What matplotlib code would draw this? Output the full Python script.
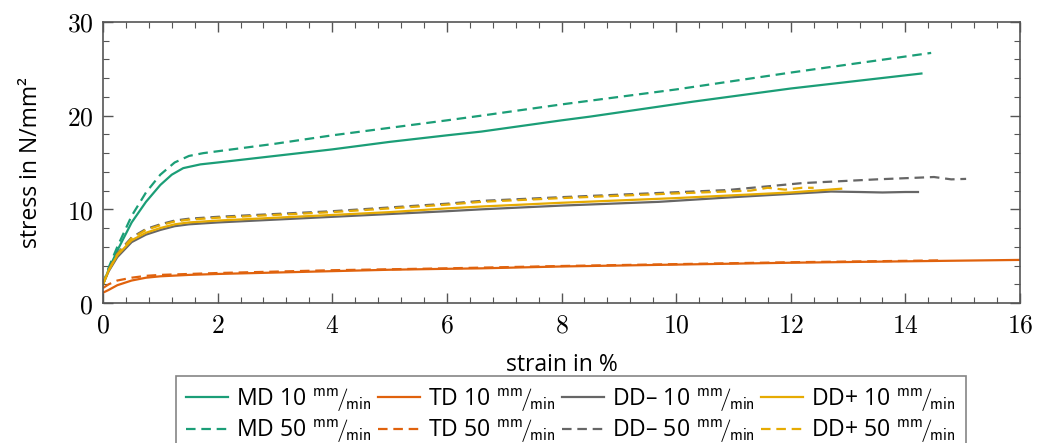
import matplotlib
matplotlib.use("Agg")
import matplotlib.pyplot as plt
from matplotlib.ticker import MultipleLocator, FuncFormatter

# --- measured stress-strain curves (strain in %, stress in N/mm^2) ---
md10_x = [0, 0.1, 0.25, 0.5, 0.75, 1.0, 1.2, 1.4, 1.7, 2.0, 3, 4, 5, 6, 6.6, 8, 8.5, 10.3, 12, 14.28]
md10_y = [2.0, 3.6, 5.6, 8.6, 10.8, 12.6, 13.7, 14.4, 14.8, 15.0, 15.7, 16.4, 17.2, 17.9, 18.3, 19.5, 19.9, 21.5, 22.9, 24.5]

md50_x = [0, 0.1, 0.25, 0.5, 0.75, 1.0, 1.25, 1.5, 1.75, 2, 3, 4, 5, 6, 6.6, 8, 10, 12, 14.45]
md50_y = [2.0, 3.8, 6.0, 9.3, 11.8, 13.7, 15.0, 15.7, 16.0, 16.2, 17.0, 17.9, 18.7, 19.5, 20.0, 21.2, 22.8, 24.6, 26.7]

td10_x = [0, 0.1, 0.25, 0.5, 0.75, 1.0, 1.5, 2, 3, 4, 5, 6, 6.6, 8, 10, 12, 14, 16]
td10_y = [1.1, 1.4, 1.9, 2.4, 2.7, 2.85, 3.0, 3.1, 3.25, 3.4, 3.55, 3.65, 3.7, 3.9, 4.1, 4.3, 4.45, 4.6]

td50_x = [0, 0.1, 0.25, 0.5, 0.75, 1, 1.5, 2, 3, 4, 5, 6, 8, 10, 12, 14, 14.6]
td50_y = [1.6, 2.0, 2.4, 2.7, 2.9, 3.0, 3.1, 3.2, 3.35, 3.5, 3.6, 3.7, 3.95, 4.15, 4.35, 4.5, 4.55]

ddm10_x = [0, 0.1, 0.25, 0.5, 0.75, 1.0, 1.25, 1.5, 2, 3, 4, 5, 6, 6.6, 8, 9.7, 11, 12.7, 13.2, 13.6, 14.0, 14.22]
ddm10_y = [2.0, 3.4, 4.9, 6.5, 7.3, 7.8, 8.2, 8.4, 8.6, 8.9, 9.2, 9.5, 9.8, 10.0, 10.4, 10.8, 11.3, 11.9, 11.85, 11.8, 11.85, 11.85]

ddm50_x = [0, 0.1, 0.25, 0.5, 0.75, 1.0, 1.25, 1.5, 2, 3, 4, 5, 6, 6.6, 8, 10.9, 12.2, 13.5, 14.5, 14.8, 15.06]
ddm50_y = [2.0, 3.6, 5.3, 7.0, 7.9, 8.4, 8.8, 9.0, 9.2, 9.5, 9.8, 10.2, 10.6, 10.9, 11.3, 12.06, 12.8, 13.2, 13.45, 13.2, 13.25]

ddp10_x = [0, 0.1, 0.25, 0.5, 0.75, 1.0, 1.25, 1.5, 2, 3, 4, 5, 6, 6.6, 8, 10, 12, 12.88]
ddp10_y = [2.0, 3.5, 5.1, 6.7, 7.5, 8.0, 8.4, 8.6, 8.8, 9.1, 9.4, 9.7, 10.1, 10.3, 10.7, 11.2, 11.8, 12.2]

ddp50_x = [0, 0.1, 0.25, 0.5, 0.75, 1.0, 1.25, 1.5, 2, 3, 4, 5, 6, 6.6, 8, 10, 11.3, 11.6, 11.9, 12.2, 12.4]
ddp50_y = [2.0, 3.5, 5.2, 6.9, 7.8, 8.3, 8.7, 8.9, 9.1, 9.4, 9.7, 10.1, 10.5, 10.8, 11.2, 11.7, 12.0, 12.3, 12.1, 12.3, 12.3]

x_ticks = [0, 2, 4, 6, 8, 10, 12, 14, 16]
y_ticks = [0, 10, 20, 30]

C_MD = "#1b9e77"
C_TD = "#e0620d"
C_DDM = "#666666"
C_DDP = "#e6ab02"

plt.rcParams["mathtext.fontset"] = "cm"

fig = plt.figure(figsize=(10.5, 4.43), dpi=100)
ax = fig.add_axes([103 / 1050, 1 - 303 / 443, (1020 - 103) / 1050, (303 - 22) / 443])

rate = r"$\mathsf{^{mm}\!/\!_{min}}$"
lw = 1.6
dash = (4.3, 2.6)

series = [
    (md10_x, md10_y, C_MD, "-", f"MD 10 {rate}"),
    (md50_x, md50_y, C_MD, "--", f"MD 50 {rate}"),
    (td10_x, td10_y, C_TD, "-", f"TD 10 {rate}"),
    (td50_x, td50_y, C_TD, "--", f"TD 50 {rate}"),
    (ddm10_x, ddm10_y, C_DDM, "-", f"DD\u2013 10 {rate}"),
    (ddm50_x, ddm50_y, C_DDM, "--", f"DD\u2013 50 {rate}"),
    (ddp10_x, ddp10_y, C_DDP, "-", f"DD+ 10 {rate}"),
    (ddp50_x, ddp50_y, C_DDP, "--", f"DD+ 50 {rate}"),
]
handles = []
for xs, ys, c, ls, lab in series:
    if ls == "--":
        h, = ax.plot(xs, ys, color=c, lw=lw, dashes=dash, label=lab)
    else:
        h, = ax.plot(xs, ys, color=c, lw=lw, label=lab)
    handles.append(h)

ax.set_xlim(0, 16)
ax.set_ylim(0, 30)
ax.set_xticks(x_ticks)
ax.set_yticks(y_ticks)
ax.xaxis.set_minor_locator(MultipleLocator(0.4))
ax.yaxis.set_minor_locator(MultipleLocator(2))
ax.xaxis.set_major_formatter(FuncFormatter(lambda v, p: f"${v:g}$"))
ax.yaxis.set_major_formatter(FuncFormatter(lambda v, p: f"${v:g}$"))
ax.tick_params(which="both", direction="in", top=True, right=True, colors="#555555",
               labelcolor="black", labelsize=18.5, pad=7)
ax.tick_params(which="major", length=7, width=1.0)
ax.tick_params(which="minor", length=4.5, width=0.8)
for s in ax.spines.values():
    s.set_color("#555555")
    s.set_linewidth(1.2)

ax.set_xlabel("strain in %", fontsize=16.5, family="Open Sans", labelpad=10)
ax.set_ylabel("stress in N/mm²", fontsize=16.5, family="Open Sans", labelpad=17)

leg = fig.legend(handles=handles, loc="upper center", bbox_to_anchor=(571 / 1050, 1 - 376 / 443),
                 ncol=4, frameon=True, fancybox=False, handlelength=1.8, borderaxespad=0,
                 handletextpad=0.35, columnspacing=0.3, labelspacing=0.16, borderpad=0.45,
                 prop={"family": "Open Sans", "size": 16.6})
leg.get_frame().set_edgecolor("#666666")
leg.get_frame().set_linewidth(1.2)

fig.savefig("out.png", dpi=100)
